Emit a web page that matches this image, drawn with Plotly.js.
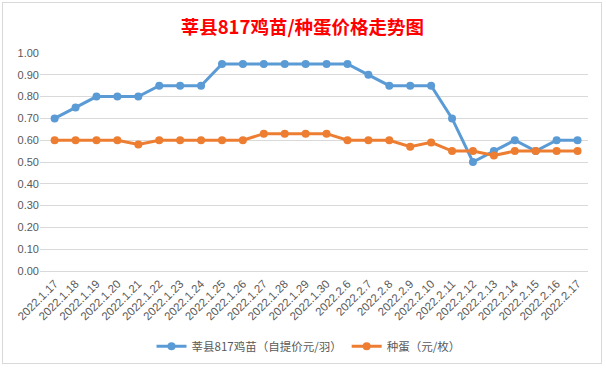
<!DOCTYPE html>
<html>
<head>
<meta charset="utf-8">
<script src="https://cdn.plot.ly/plotly-3.0.1.min.js"></script>
<style>
html,body{margin:0;padding:0;background:#fff;}
#frame{position:absolute;left:2px;top:2px;width:600px;height:362px;border:1px solid #d9d9d9;box-sizing:border-box;}
#chart{position:absolute;left:0;top:0;width:606px;height:368px;}
</style>
</head>
<body>
<div id="frame"></div>
<div id="chart"></div>
<script>
const categories = ["2022.1.17","2022.1.18","2022.1.19","2022.1.20","2022.1.21","2022.1.22","2022.1.23","2022.1.24","2022.1.25","2022.1.26","2022.1.27","2022.1.28","2022.1.29","2022.1.30","2022.2.6","2022.2.7","2022.2.8","2022.2.9","2022.2.10","2022.2.11","2022.2.12","2022.2.13","2022.2.14","2022.2.15","2022.2.16","2022.2.17"];
const chickPrice = [0.70,0.75,0.80,0.80,0.80,0.85,0.85,0.85,0.95,0.95,0.95,0.95,0.95,0.95,0.95,0.90,0.85,0.85,0.85,0.70,0.50,0.55,0.60,0.55,0.60,0.60];
const eggPrice = [0.60,0.60,0.60,0.60,0.58,0.60,0.60,0.60,0.60,0.60,0.63,0.63,0.63,0.63,0.60,0.60,0.60,0.57,0.59,0.55,0.55,0.53,0.55,0.55,0.55,0.55];
const seriesNames = ["莘县817鸡苗（自提价元/羽）","种蛋（元/枚）"];
const yTicks = [0,0.1,0.2,0.3,0.4,0.5,0.6,0.7,0.8,0.9,1.0];

const fontFam = '"Liberation Sans", "Noto Sans CJK SC", sans-serif';
const traces = [
  {x: categories, y: chickPrice, name: seriesNames[0], type: 'scatter', mode: 'lines+markers',
   line: {color: '#5B9BD5', width: 3}, marker: {color: '#5B9BD5', size: 8}},
  {x: categories, y: eggPrice, name: seriesNames[1], type: 'scatter', mode: 'lines+markers',
   line: {color: '#ED7D31', width: 3}, marker: {color: '#ED7D31', size: 8}}
];
const layout = {
  width: 606, height: 368,
  paper_bgcolor: 'rgba(0,0,0,0)', plot_bgcolor: 'rgba(0,0,0,0)',
  margin: {l: 40, r: 18, t: 53, b: 97, autoexpand: false},
  title: {text: '<b>莘县817鸡苗/种蛋价格走势图</b>', x: 0.499, xanchor: 'center', y: 0.925, yanchor: 'middle',
          font: {family: '"Noto Sans CJK SC", sans-serif', size: 18.5, color: '#FF0000'}},
  xaxis: {type: 'category', range: [-0.7, categories.length - 0.5], tickangle: -45, showgrid: false, showline: false, ticks: '',
          ticklabelstandoff: 3,
          tickfont: {family: fontFam, size: 11.5, color: '#595959'}, fixedrange: true, automargin: false},
  yaxis: {range: [0, 1.0], tickvals: yTicks, tickformat: '.2f', showgrid: true, gridcolor: '#d9d9d9', gridwidth: 1,
          zeroline: true, zerolinecolor: '#d9d9d9', zerolinewidth: 1, showline: false, ticks: '',
          tickfont: {family: fontFam, size: 11, color: '#595959'}, fixedrange: true, automargin: false},
  showlegend: true,
  legend: {orientation: 'h', x: 0.49, xanchor: 'center', y: -0.345, yanchor: 'middle',
           font: {family: '"Noto Sans CJK SC", sans-serif', size: 11.5, color: '#595959'}, itemwidth: 30,
           bgcolor: 'rgba(0,0,0,0)'}
};
Plotly.newPlot('chart', traces, layout, {displayModeBar: false, staticPlot: true});
</script>
</body>
</html>
